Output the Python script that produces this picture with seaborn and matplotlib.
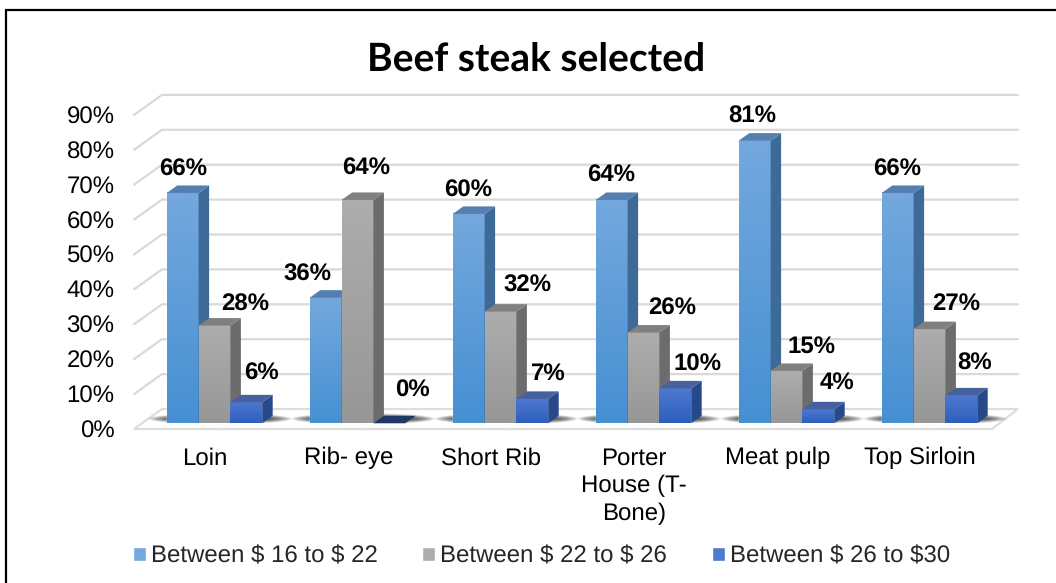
import numpy as np
import pandas as pd
import matplotlib
matplotlib.use('Agg')
import matplotlib.pyplot as plt
from matplotlib.patches import Polygon, Ellipse
from matplotlib.lines import Line2D
from matplotlib.colors import to_rgb
import seaborn as sns

cuts = ['Loin', 'Rib- eye', 'Short Rib', 'Porter\nHouse (T-\nBone)', 'Meat pulp', 'Top Sirloin']
price_ranges = ['Between \\$ 16 to \\$ 22', 'Between \\$ 22 to \\$ 26', 'Between \\$ 26 to \\$30']
low_price = [66, 36, 60, 64, 81, 66]
mid_price = [28, 64, 32, 26, 15, 27]
high_price = [6, 0, 7, 10, 4, 8]
y_ticks = [0, 10, 20, 30, 40, 50, 60, 70, 80, 90]

df = pd.DataFrame({
    'cut': cuts * 3,
    'price': np.repeat(price_ranges, len(cuts)),
    'share': low_price + mid_price + high_price,
})

W, H = 1056, 583
PX_PER_PCT = 3.49
STEP = 143.0

# face colours: gradient top, gradient bottom, side, roof
face_top = ['#74A8DE', '#ADADAD', '#4F78D0']
face_bottom = ['#4690D2', '#979797', '#2C60BC']
side_col = ['#3E6A98', '#6C6C6C', '#27488A']
roof_col = ['#557FAE', '#808080', '#46629E']

# label nudges from bar centre / bar top, in pixels
nudge = {
    0: [(0, -23), (-18, -23), (-1, -23), (-1, -24), (-2, -24), (-1, -23)],
    1: [(31, -21), (9, -31), (27, -26), (29, -24), (25, -24), (27, -25)],
    2: [(15, -29), (23, -33), (16, -25), (22, -24), (19, -27), (13, -32)],
}

sns.set_style('white')
plt.rcParams['font.family'] = ['Liberation Sans', 'DejaVu Sans']
plt.rcParams['text.hinting'] = 'no_hinting'
plt.rcParams['text.hinting_factor'] = 1

fig = plt.figure(figsize=(W / 100, H / 100), dpi=100)
ax = fig.add_axes([134 / W, 1 - 429 / H, (1018 - 134) / W, (429 - 94) / H])

sns.barplot(data=df, x='cut', y='share', hue='price', palette=face_top, width=0.667,
            gap=0, saturation=1, dodge=True, ax=ax, zorder=5)

xmin = (134 - 214.5) / STEP
xmax = (1018 - 214.5) / STEP
front_drop = (429 - 423.3) / PX_PER_PCT
ymax = (423.3 - 94) / PX_PER_PCT

# 3d offsets in data units
bar_dx = 10.5 / STEP
bar_dy = 7.5 / PX_PER_PCT
wall_dx = 28 / STEP
wall_dy = 20 / PX_PER_PCT
front_right = xmax - 26 / STEP

# back wall grid lines with the short diagonal to the front
for v in y_ticks:
    yf = v - front_drop
    yb = yf + wall_dy
    if v == 0:
        continue
    ax.plot([xmin, xmin + wall_dx, xmax], [yf, yb, yb], color='#D9D9D9', lw=1.6, zorder=1, clip_on=False)

# floor
yf = -front_drop
ax.add_patch(Polygon([(xmin, yf), (xmin + wall_dx, yf + wall_dy), (xmax, yf + wall_dy), (front_right, yf)],
                     closed=True, facecolor='white', edgecolor='#DDDDDD', lw=1.6, zorder=1.5, clip_on=False))

grad = np.linspace(0, 1, 64)[:, None, None]
kept = []
for s, container in enumerate(ax.containers):
    for i, bar in enumerate(container):
        kept.append((s, i, bar.get_x(), bar.get_width(), bar.get_height()))

# soft shadows on the floor behind each group
for i in range(len(cuts)):
    for k in range(14):
        ax.add_patch(Ellipse((i + 0.04, 1.3), 1.0 - k * 0.022, 3.2 - k * 0.17,
                             facecolor='#111111', edgecolor='none', alpha=0.075, zorder=2, clip_on=False))

for s, i, x0, w, val in kept:
    z = 5 + i * 0.01 + s * 2
    if val > 0:
        c0 = np.array(to_rgb(face_top[s]))
        c1 = np.array(to_rgb(face_bottom[s]))
        img = (c0 * (1 - grad) + c1 * grad)
        ax.imshow(img, extent=(x0, x0 + w, 0, val), aspect='auto', zorder=z + 0.1,
                  interpolation='bilinear')
    ax.add_patch(Polygon([(x0 + w, 0), (x0 + w + bar_dx, bar_dy), (x0 + w + bar_dx, val + bar_dy), (x0 + w, val)],
                         closed=True, facecolor=side_col[s], edgecolor='none', zorder=z + 0.2, clip_on=False))
    roof = roof_col[s] if val > 0 else '#1F3864'
    ax.add_patch(Polygon([(x0, val), (x0 + w, val), (x0 + w + bar_dx, val + bar_dy), (x0 + bar_dx, val + bar_dy)],
                         closed=True, facecolor=roof, edgecolor='none', zorder=z + 0.3, clip_on=False))
    ox, oy = nudge[s][i]
    ax.annotate(f'{val:.0f}%', (x0 + w / 2, val), xytext=(ox * 0.72, -oy * 0.72), textcoords='offset points',
                ha='center', va='center', fontsize=17, fontweight='bold', color='black', zorder=30,
                annotation_clip=False)

ax.set_xlim(xmin, xmax)
ax.set_ylim(-front_drop, ymax)
ax.set_yticks([v - front_drop for v in y_ticks], labels=[f'{v}%' for v in y_ticks])
ax.set_xticks([i - 0.065 for i in range(len(cuts))], labels=cuts)
ax.tick_params(axis='y', length=0, pad=14, labelsize=17.3, labelcolor='black')
ax.tick_params(axis='x', length=0, pad=13, labelsize=17.3, labelcolor='black')
for lab in ax.get_xticklabels():
    lab.set_linespacing(1.3)
ax.set_xlabel('')
ax.set_ylabel('')
for spine in ax.spines.values():
    spine.set_visible(False)
ax.patch.set_alpha(0)

handles, labels = ax.get_legend_handles_labels()
ax.legend(handles, labels, ncol=3, frameon=False, loc='center left',
          bbox_to_anchor=(133 / W, 1 - 556.5 / H), bbox_transform=fig.transFigure,
          fontsize=17.3, handlelength=0.54, handleheight=0.54, handletextpad=0.21,
          columnspacing=1.85, borderpad=0, borderaxespad=0)

fig.text(536 / W, 1 - 60 / H, 'Beef steak selected', ha='center', va='center', fontsize=28.2,
         fontweight='bold', family=['Lato', 'DejaVu Sans'], color='black')

# chart frame, only the top and left edges show in the crop
fig.add_artist(Line2D([6 / W, 6 / W, 1], [0, 1 - 10 / H, 1 - 10 / H], transform=fig.transFigure,
                      color='black', lw=1.6, solid_joinstyle='miter'))

fig.savefig('out.png', dpi=100)
